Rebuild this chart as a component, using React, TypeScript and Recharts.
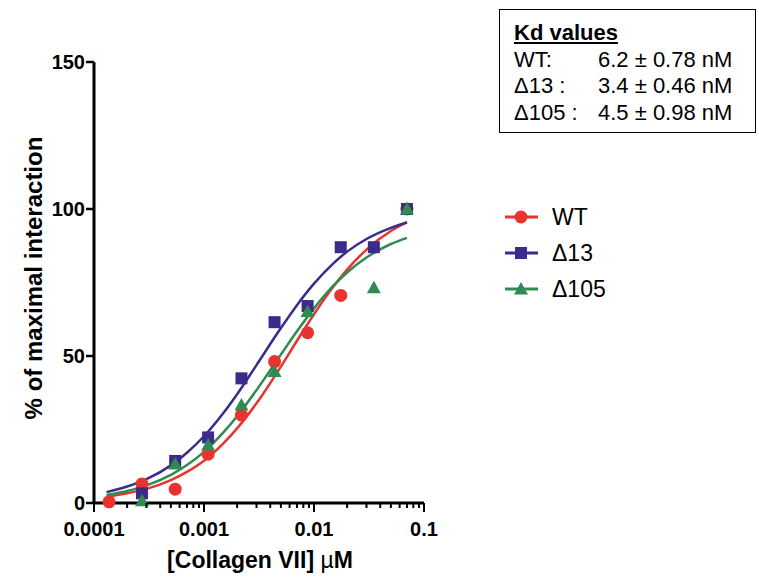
import { ComposedChart, Line, Scatter, XAxis, YAxis, Legend } from 'recharts'

const FONT = '"Liberation Sans", Arial, Helvetica, sans-serif'

const RED = '#E8332E'
const BLUE = '#3A2B8C'
const GREEN = '#2F8B52'

// dilution series, µM
const DOSES = [0.000137, 0.000273, 0.000547, 0.00109, 0.00219, 0.00438, 0.00875, 0.0175, 0.035, 0.07]
const WT_PTS = [0.4, 6.5, 4.7, 16.6, 29.9, 48.1, 57.9, 70.6, null, 100]
const D13_PTS = [null, 3.3, 14.3, 22.3, 42.4, 61.5, 67.0, 87, 87, 100]
const D105_PTS = [null, 0.8, 13.3, 19.7, 33.3, 44.7, 65.1, null, 73.2, 100]

// fitted curves
const CURVE_X = [0.00013, 0.0002, 0.0003, 0.0005, 0.0007, 0.001, 0.0015, 0.002, 0.003, 0.005, 0.007, 0.01, 0.015, 0.02, 0.03, 0.05, 0.07]
const WT_FIT = [2.1, 3.3, 4.8, 7.8, 10.6, 14.4, 20.3, 25.4, 33.9, 46.4, 55.2, 64.2, 73.6, 79.4, 86.2, 92.5, 95.5]
const D13_FIT = [3.7, 5.6, 8.1, 12.8, 17.1, 22.7, 30.6, 37.0, 46.9, 59.5, 67.3, 74.6, 81.5, 85.5, 89.8, 93.6, 95.4]
const D105_FIT = [2.7, 4.1, 6.0, 9.6, 12.9, 17.4, 24.0, 29.5, 38.4, 50.5, 58.4, 66.2, 73.9, 78.4, 83.5, 88.1, 90.2]

const X_MAJOR = [0.0001, 0.001, 0.01, 0.1]
const X_MAJOR_LABELS = ['0.0001', '0.001', '0.01', '0.1']
const X_MINOR = [
  0.0002, 0.0003, 0.0004, 0.0005, 0.0006, 0.0007, 0.0008, 0.0009,
  0.002, 0.003, 0.004, 0.005, 0.006, 0.007, 0.008, 0.009,
  0.02, 0.03, 0.04, 0.05, 0.06, 0.07, 0.08, 0.09,
]
const Y_TICKS = [0, 50, 100, 150]

const SERIES = [
  { name: 'WT', color: RED, pts: WT_PTS, fit: WT_FIT, shape: 'circle' },
  { name: 'Δ13', color: BLUE, pts: D13_PTS, fit: D13_FIT, shape: 'square' },
  { name: 'Δ105', color: GREEN, pts: D105_PTS, fit: D105_FIT, shape: 'triangle' },
]

const KD_ROWS = [
  ['WT:', '6.2 ± 0.78 nM'],
  ['Δ13 :', '3.4 ± 0.46 nM'],
  ['Δ105 :', '4.5 ± 0.98 nM'],
]

function Marker({ cx, cy, shape, color }: any) {
  if (cx == null || cy == null) return null
  if (shape === 'circle') return <circle cx={cx} cy={cy} r={6.5} fill={color} />
  if (shape === 'square') return <rect x={cx - 6} y={cy - 6} width={12} height={12} fill={color} />
  return <polygon points={`${cx},${cy - 7} ${cx + 7},${cy + 5.5} ${cx - 7},${cy + 5.5}`} fill={color} />
}

function XTick({ x, y, payload }: any) {
  const i = X_MAJOR.indexOf(payload.value)
  const major = i >= 0
  return (
    <g>
      <line x1={x} x2={x} y1={y} y2={y + (major ? 9 : 5)} stroke="#000" strokeWidth={2} />
      {major && (
        <text x={x} y={y + 33} textAnchor="middle" fontFamily={FONT} fontWeight="bold" fontSize={20} fill="#000">
          {X_MAJOR_LABELS[i]}
        </text>
      )}
    </g>
  )
}

function YTick({ x, y, payload }: any) {
  return (
    <g>
      <line x1={x} x2={x - 8} y1={y} y2={y} stroke="#000" strokeWidth={2.5} />
      <text x={x - 9} y={y + 7} textAnchor="end" fontFamily={FONT} fontWeight="bold" fontSize={20} fill="#000">
        {payload.value}
      </text>
    </g>
  )
}

function LegendBox() {
  return (
    <div style={{ fontFamily: FONT, fontSize: 23 }}>
      {SERIES.map((s) => (
        <div key={s.name} style={{ display: 'flex', alignItems: 'center', height: 36 }}>
          <svg width={40} height={20}>
            <line x1={2} x2={35} y1={10} y2={10} stroke={s.color} strokeWidth={3} />
            <Marker cx={18} cy={10} shape={s.shape} color={s.color} />
          </svg>
          <span style={{ marginLeft: 9 }}>{s.name}</span>
        </div>
      ))}
    </div>
  )
}

export default function App() {
  return (
    <div style={{ position: 'absolute', left: 0, top: 0, width: 759, height: 580, background: '#fff' }}>
      <ComposedChart width={759} height={580} margin={{ top: 62, right: 335, bottom: 0, left: 0 }}>
        <XAxis
          type="number"
          dataKey="x"
          scale="log"
          domain={[0.0001, 0.1]}
          allowDataOverflow
          ticks={[...X_MAJOR, ...X_MINOR]}
          interval={0}
          tick={<XTick />}
          tickLine={false}
          tickSize={0}
          tickMargin={0}
          height={77}
          axisLine={{ stroke: '#000', strokeWidth: 3 }}
          label={{
            content: () => (
              <text x={260} y={568} textAnchor="middle" fontFamily={FONT} fontWeight="bold" fontSize={23} fill="#000">
                [Collagen VII] <tspan fontWeight="normal">µ</tspan>M
              </text>
            ),
          }}
        />
        <YAxis
          type="number"
          dataKey="y"
          domain={[0, 150]}
          ticks={Y_TICKS}
          interval={0}
          tick={<YTick />}
          tickLine={false}
          tickSize={0}
          tickMargin={0}
          width={94}
          axisLine={{ stroke: '#000', strokeWidth: 3 }}
          label={{
            content: () => (
              <text
                x={42}
                y={278}
                transform="rotate(-90 42 278)"
                textAnchor="middle"
                fontFamily={FONT}
                fontWeight="bold"
                fontSize={24}
                fill="#000"
              >
                % of maximal interaction
              </text>
            ),
          }}
        />
        {SERIES.map((s) => (
          <Scatter
            key={s.name + '-pts'}
            name={s.name}
            data={DOSES.map((x, i) => ({ x, y: s.pts[i] })).filter((d) => d.y != null)}
            dataKey="y"
            fill={s.color}
            shape={(p: any) => <Marker cx={p.cx} cy={p.cy} shape={s.shape} color={s.color} />}
            isAnimationActive={false}
          />
        ))}
        {SERIES.map((s) => (
          <Line
            key={s.name + '-fit'}
            data={CURVE_X.map((x, i) => ({ x, y: s.fit[i] }))}
            dataKey="y"
            type="monotone"
            stroke={s.color}
            strokeWidth={2.5}
            dot={false}
            activeDot={false}
            legendType="none"
            isAnimationActive={false}
          />
        ))}
        <Legend
          layout="vertical"
          align="center"
          verticalAlign="middle"
          content={<LegendBox />}
          wrapperStyle={{ position: 'absolute', left: 503, top: 199, width: 200 }}
        />
      </ComposedChart>
      <div
        style={{
          position: 'absolute',
          left: 499,
          top: 9,
          width: 257,
          height: 124,
          border: '1.5px solid #000',
          fontFamily: FONT,
          fontSize: 22,
          lineHeight: '26.5px',
          padding: '10px 0 0 14px',
          boxSizing: 'border-box',
        }}
      >
        <div style={{ fontWeight: 'bold', textDecoration: 'underline' }}>Kd values</div>
        {KD_ROWS.map(([k, v]) => (
          <div key={k} style={{ display: 'flex' }}>
            <span style={{ width: 84 }}>{k}</span>
            <span>{v}</span>
          </div>
        ))}
      </div>
    </div>
  )
}
